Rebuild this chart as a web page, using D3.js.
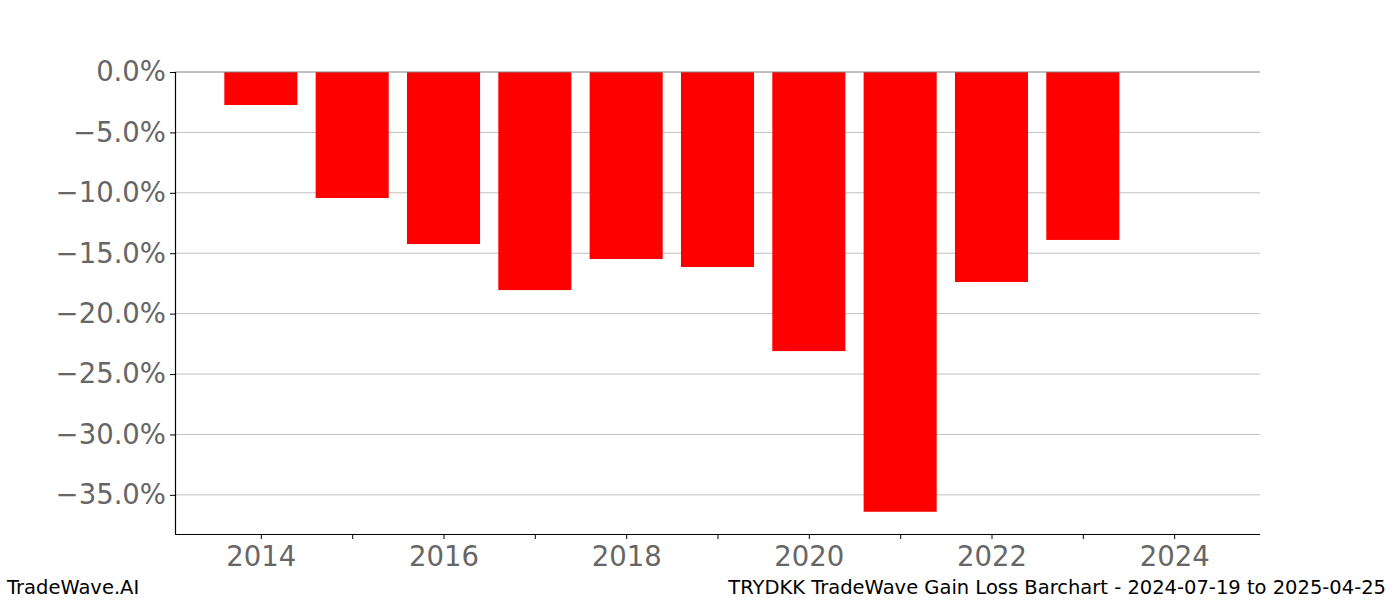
<!DOCTYPE html>
<html><head><meta charset="utf-8">
<script src="https://cdn.jsdelivr.net/npm/d3@7"></script>
<style>body{margin:0;background:#fff}svg{display:block}</style>
</head><body>
<script>
const years = [2014,2015,2016,2017,2018,2019,2020,2021,2022,2023];
const values = [-2.73,-10.43,-14.24,-18.05,-15.48,-16.14,-23.1,-36.4,-17.38,-13.9];
const yTicks = [0,-5,-10,-15,-20,-25,-30,-35];
const xTicks = [2014,2015,2016,2017,2018,2019,2020,2021,2022,2023,2024];
const xLabels = [2014,2016,2018,2020,2022,2024];
const titleLeft = "TradeWave.AI";
const titleRight = "TRYDKK TradeWave Gain Loss Barchart - 2024-07-19 to 2025-04-25";

const W=1400,H=600, L=175,R=1260,T=72,B=534;
const svg=d3.select("body").append("svg").attr("width",W).attr("height",H);
const x=d3.scaleLinear().domain([2013.06,2024.94]).range([L,R]);
const y=d3.scaleLinear().domain([0,-38.24]).range([T,B]);
const font="DejaVu Sans, sans-serif";

// grid
svg.append("g").selectAll("line").data(yTicks.filter(d=>d!==0)).join("line")
 .attr("x1",L).attr("x2",R).attr("y1",d=>y(d)).attr("y2",d=>y(d))
 .attr("stroke","#c0c0c0").attr("stroke-width",1);

// bars
const bw = x(2014.4)-x(2013.6);
svg.append("g").selectAll("rect").data(years).join("rect")
 .attr("x",(d)=>x(d)-bw/2).attr("width",bw)
 .attr("y",y(0)).attr("height",(d,i)=>y(values[i])-y(0))
 .attr("fill","#ff0000");

// zero line
svg.append("line").attr("x1",L).attr("x2",R).attr("y1",y(0)).attr("y2",y(0))
 .attr("stroke","#808080").attr("stroke-width",1);

// axes
const yAxis=d3.axisLeft(y).tickValues(yTicks).tickSize(5).tickPadding(4)
 .tickFormat(d=>(d<0?"\u2212":"")+Math.abs(d).toFixed(1)+"%");
const gy=svg.append("g").attr("transform",`translate(${L},0)`).call(yAxis);
const xAxis=d3.axisBottom(x).tickValues(xTicks).tickSize(5).tickPadding(7)
 .tickFormat(d=>xLabels.includes(d)?String(d):"");
const gx=svg.append("g").attr("transform",`translate(0,${B})`).call(xAxis);
[gx,gy].forEach(g=>{
 g.select(".domain").attr("stroke","#000").attr("stroke-width",1.2);
 g.selectAll(".tick line").attr("stroke","#000");
 g.selectAll("text").attr("font-family",font).attr("font-size",27.5).attr("fill","#666");
});
gy.select(".domain").attr("d",`M0.5,${T}V${B}`);
gx.select(".domain").attr("d",`M${L},0.5H${R}`);

svg.append("text").attr("x",7).attr("y",594).attr("font-family",font).attr("font-size",19.5).text(titleLeft);
svg.append("text").attr("x",1386).attr("y",594).attr("text-anchor","end").attr("font-family",font).attr("font-size",19.5).text(titleRight);
</script>
</body></html>
